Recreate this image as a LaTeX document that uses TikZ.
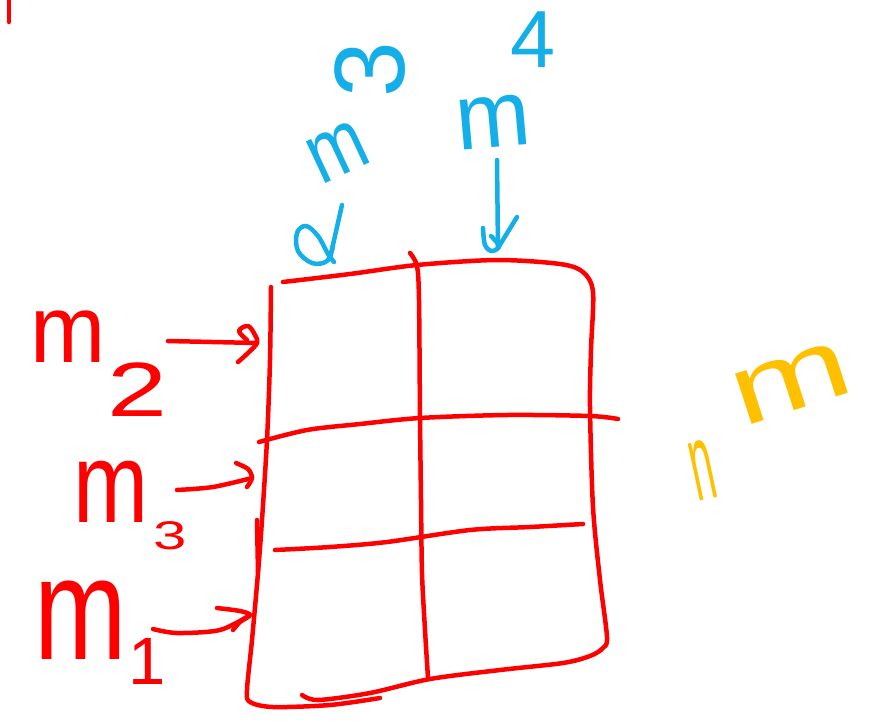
\documentclass[tikz,border=0pt]{standalone}
\usepackage{fontspec}
\setmainfont{Liberation Sans}
\definecolor{inkred}{RGB}{255,0,0}
\definecolor{inkblue}{RGB}{20,174,232}
\definecolor{inkyellow}{RGB}{255,192,0}
\tikzset{
  redstroke/.style={draw=inkred, line width=4.5pt, line cap=round, line join=round},
  bluestroke/.style={draw=inkblue, line width=4.5pt, line cap=round, line join=round},
  hand/.style={inner sep=0pt, outer sep=0pt, anchor=center},
  redtext/.style={hand, text=inkred},
  bluetext/.style={hand, text=inkblue},
  yellowtext/.style={hand, text=inkyellow},
}
\newcommand{\fs}[1]{\fontsize{#1}{#1}\selectfont}
\begin{document}
\begin{tikzpicture}[x=1pt,y=-1pt]
\useasboundingbox (0,0) rectangle (871,721);
\fill[white] (0,0) rectangle (871,721);

% small stroke at top left
\coordinate (tl1) at (9,0);
\coordinate (tl2) at (9,22);
\draw[redstroke] (tl1) -- (tl2);

% ---- grid ----
\draw[redstroke] plot[smooth, tension=0.5] coordinates {(283,282) (350,274) (417,265) (497,260) (560,264) (583,272) (593,292) (591,350) (590,407) (593,507) (600,580) (607,637) (603,648) (590,656) (563,663) (500,670) (430,679) (370,693) (318,700) (302,695)};
\draw[redstroke] plot[smooth, tension=0.5] coordinates {(271,287) (270,360) (267,440) (262,520) (258,573) (252,640) (247,690) (250,702) (273,707) (330,705) (380,698)};
\draw[redstroke] (257,520) -- (258,572);
\draw[redstroke] plot[smooth, tension=0.5] coordinates {(410,253) (417,266) (419,300) (420,417) (421,500) (422,573) (425,630) (428,678)};
\draw[redstroke] plot[smooth, tension=0.5] coordinates {(259,442) (307,430) (360,424) (420,418) (507,415) (590,416) (618,419)};
\draw[redstroke] plot[smooth, tension=0.5] coordinates {(275,550) (330,547) (387,542) (470,530) (530,527) (583,524)};

% ---- row labels ----
\node[redtext, font=\fs{96}, xscale=0.94] (m2) at (68,337) {m};
\node[redtext, font=\fs{77}, xscale=1.4] (m2i) at (137,390) {2};
\node[redtext, font=\fs{114}, xscale=0.79] (m3) at (111,492) {m};
\node[redtext, font=\fs{40}, xscale=1.5] (m3i) at (170,536) {3};
\node[redtext, font=\fs{146}, xscale=0.76] (m1) at (81,620) {m};
\node[redtext, font=\fs{67}] (m1i) at (147,661) {1};

% row arrows
\coordinate (a1s) at (168,341); \coordinate (a1e) at (257,343);
\coordinate (a2s) at (177,490); \coordinate (a2e) at (252,478);
\coordinate (a3s) at (153,629); \coordinate (a3e) at (250,615);
\draw[redstroke] (a1s) -- (a1e);
\draw[redstroke] plot[smooth, tension=0.6] coordinates {(247,340) (239,331) (248,326) (255,335) (257,343) (248,353) (238,362)};
\draw[redstroke] plot[smooth, tension=0.5] coordinates {(177,490) (213,487) (252,478)};
\draw[redstroke] plot[smooth, tension=0.5] coordinates {(236,463) (248,469) (252,478) (247,487)};
\draw[redstroke] plot[smooth, tension=0.5] coordinates {(153,629) (177,633) (220,630) (250,615)};
\draw[redstroke] plot[smooth, tension=0.5] coordinates {(217,608) (240,611) (250,615) (240,622) (233,630)};

% ---- column labels ----
\node[bluetext, font=\fs{87}, rotate=25, xscale=0.8] (c1m) at (338,152) {m};
\node[bluetext, font=\fs{100}, rotate=90] (c1i) at (370,70) {3};
\node[bluetext, font=\fs{94}, rotate=5, xscale=0.95] (c2m) at (493,122) {m};
\node[bluetext, font=\fs{81}] (c2i) at (533,40) {4};

% column arrows
\coordinate (b1s) at (342,205); \coordinate (b1e) at (330,258);
\coordinate (b2s) at (497,160); \coordinate (b2e) at (498,248);
\draw[bluestroke] (b1s) -- (b1e);
\draw[bluestroke] plot[smooth, tension=0.6] coordinates {(333,246) (327,261) (312,263) (298,251) (297,233) (306,226) (318,236) (328,254) (334,262)};
\draw[bluestroke] (b2s) -- (b2e);
\draw[bluestroke] plot[smooth, tension=0.6] coordinates {(483,228) (485,245) (492,251) (499,246) (491,236)};
\draw[bluestroke] (517,217) -- (b2e);

% ---- yellow label ----
\node[yellowtext, font=\fs{110}, rotate=12, xscale=0.38] (yn) at (703,470) {n};
\node[yellowtext, font=\fs{100}, rotate=18, xscale=1.45] (ym) at (792,383) {m};
\end{tikzpicture}
\end{document}
